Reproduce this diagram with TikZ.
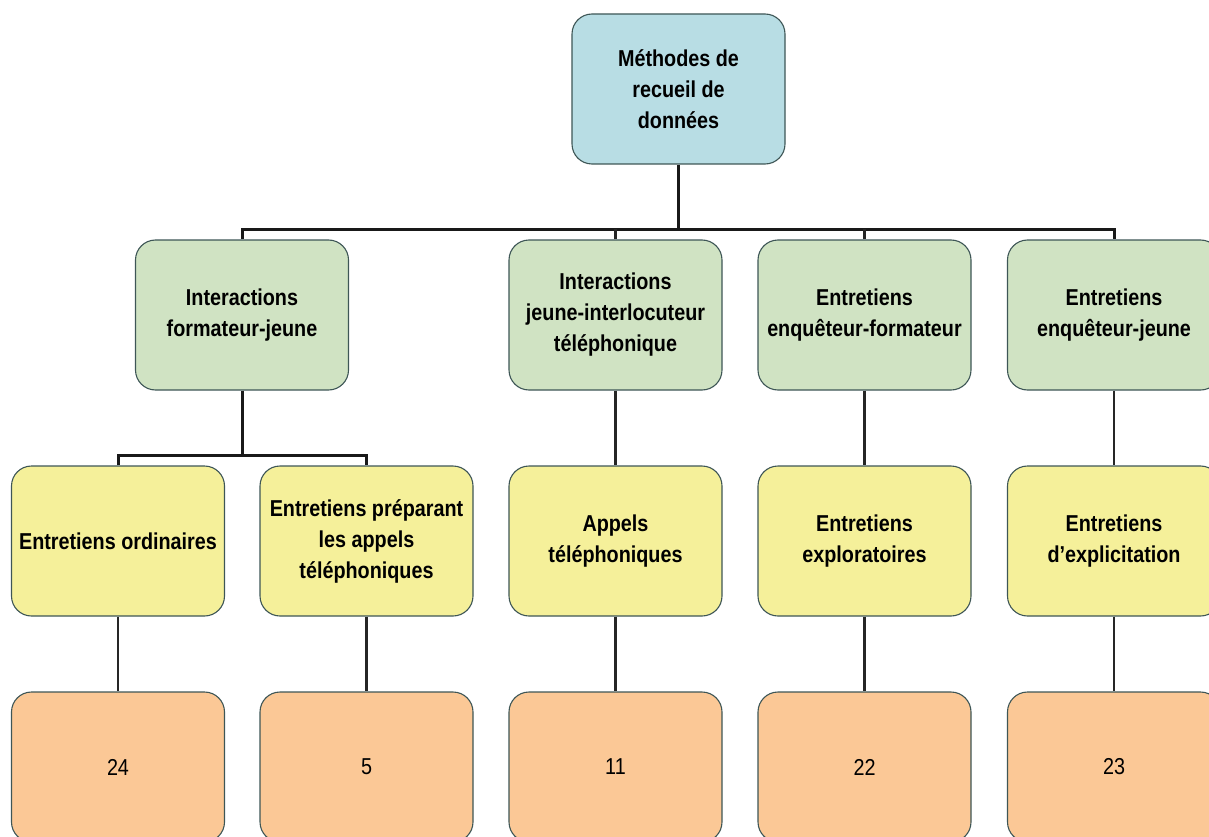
\documentclass[tikz,border=0pt]{standalone}
\usepackage{fontspec}
\setmainfont{Liberation Sans}[FakeStretch=0.86]
\begin{document}
\begin{tikzpicture}[x=1pt,y=-1pt,
  box/.style={draw=boxline,line width=1.1pt,rounded corners=20pt,minimum width=213pt,minimum height=150pt,inner sep=0pt,align=center,font=\fontsize{23}{31}\selectfont\bfseries},
  bluebox/.style={box,fill=cblue},
  greenbox/.style={box,fill=cgreen},
  yellowbox/.style={box,fill=cyellow},
  orangebox/.style={box,fill=corange,font=\fontsize{23}{31}\selectfont},
  bus/.style={line width=3pt,black!90},
  link/.style={line width=2.4pt,black!85}]
\definecolor{boxline}{HTML}{3E5656}
\definecolor{cblue}{HTML}{B8DDE4}
\definecolor{cgreen}{HTML}{D0E3C3}
\definecolor{cyellow}{HTML}{F5F09A}
\definecolor{corange}{HTML}{FBC896}
\useasboundingbox (0,0) rectangle (1209,837);
\clip (0,0) rectangle (1209,837);
% nodes
\node[bluebox] (top) at (678.5,89) {Méthodes de\\recueil de\\données};
\node[greenbox] (g1) at (242,315) {Interactions\\formateur-jeune};
\node[greenbox] (g2) at (615.5,315) {Interactions\\jeune-interlocuteur\\téléphonique};
\node[greenbox] (g3) at (864.5,315) {Entretiens\\enquêteur-formateur};
\node[greenbox] (g4) at (1114,315) {Entretiens\\enquêteur-jeune};
\node[yellowbox] (y1) at (118,541) {Entretiens ordinaires};
\node[yellowbox] (y2) at (366.5,541) {Entretiens préparant\\les appels\\téléphoniques};
\node[yellowbox] (y3) at (615.5,541) {Appels\\téléphoniques};
\node[yellowbox] (y4) at (864.5,541) {Entretiens\\exploratoires};
\node[yellowbox] (y5) at (1114,541) {Entretiens\\d’explicitation};
\node[orangebox] (o1) at (118,767) {24};
\node[orangebox] (o2) at (366.5,767) {5};
\node[orangebox] (o3) at (615.5,767) {11};
\node[orangebox] (o4) at (864.5,767) {22};
\node[orangebox] (o5) at (1114,767) {23};
% bus coordinates
\coordinate (b0) at (678.5,229);
\coordinate (b1) at (242,455);
% connectors
\draw[bus] (top.south) -- (b0);
\draw[bus] (g1.north) |- (b0) -| (g4.north);
\draw[link] (g2.north) -- (g2.north |- b0);
\draw[link] (g3.north) -- (g3.north |- b0);
\draw[bus] (g1.south) -- (b1);
\draw[bus] (y1.north) |- (b1) -| (y2.north);
\draw[link] (g2) -- (y3);
\draw[link] (g3) -- (y4);
\draw[link] (g4) -- (y5);
\draw[link] (y1) -- (o1);
\draw[link] (y2) -- (o2);
\draw[link] (y3) -- (o3);
\draw[link] (y4) -- (o4);
\draw[link] (y5) -- (o5);
\end{tikzpicture}
\end{document}
